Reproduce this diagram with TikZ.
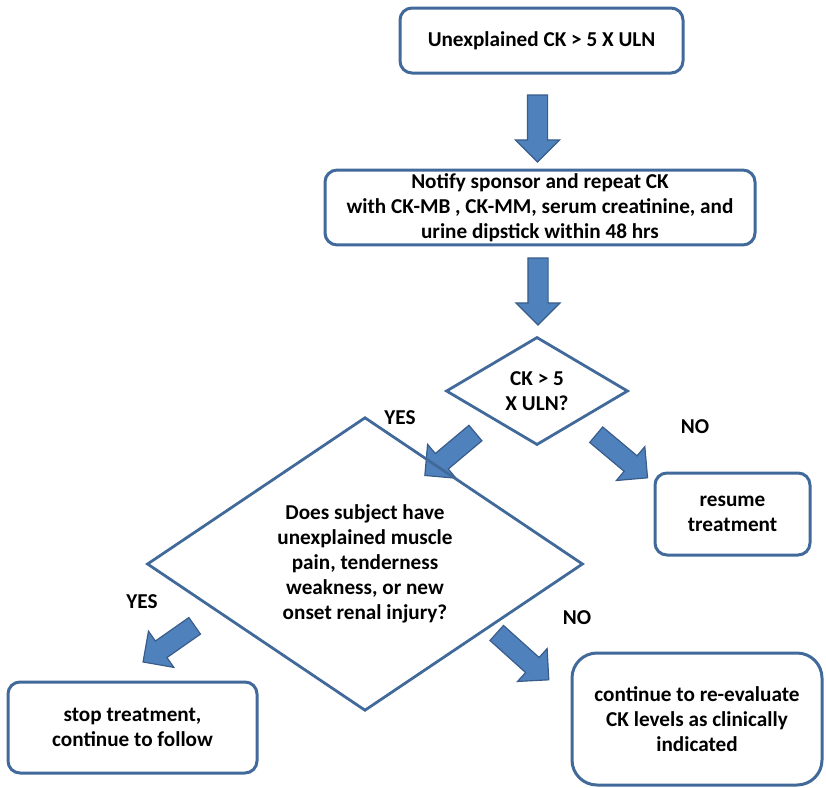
\documentclass[tikz,border=0pt]{standalone}
\usepackage{fontspec}
\setmainfont{Carlito}
\usetikzlibrary{shapes.geometric, shapes.arrows}

\definecolor{boxline}{HTML}{41699A}
\definecolor{arrowfill}{HTML}{4F81BD}
\definecolor{arrowline}{HTML}{385D8A}

\begin{document}
\begin{tikzpicture}[
  x=1pt, y=-1pt,
  every node/.style={font=\bfseries\fontsize{21.2}{25}\selectfont, align=center},
  box/.style={draw=boxline, line width=3pt, rounded corners=12pt},
  decision/.style={diamond, draw=boxline, line width=2.8pt, inner sep=0pt},
  bigarrow/.style={single arrow, draw=arrowline, fill=arrowfill, line width=1.2pt,
    inner xsep=0pt, inner ysep=9.5pt, single arrow head extend=12pt}
]
\useasboundingbox (0,0) rectangle (826,787);

% Start and repeat test
\node[box, minimum width=283pt, minimum height=65pt] (unexpl) at (541.5,40.5) {Unexplained CK > 5 X ULN};
\node[bigarrow, minimum height=67pt, rotate=-90] (arr1) at (537.5,123.5) {};

\node[box, minimum width=430pt, minimum height=71pt] (notify) at (540,207.5)
  {Notify sponsor and repeat CK\\with CK-MB , CK-MM, serum creatinine, and\\urine dipstick within 48 hrs};
\node[bigarrow, minimum height=67pt, rotate=-90] (arr2) at (538,286.5) {};

% First decision
\node[decision, minimum width=182pt, minimum height=108pt] (ckhigh) at (537,391) {CK > 5\\X ULN?};
\node (yes1) at (400,418) {YES};
\node (no1) at (695,427) {NO};
\node[bigarrow, minimum height=66pt, rotate=220] (arr3) at (454,451) {};
\node[bigarrow, minimum height=67pt, rotate=-40] (arr4) at (618,453) {};

\node[box, minimum width=155pt, minimum height=82pt] (resume) at (732.5,514) {resume\\treatment};

% Second decision
\node[decision, minimum width=436pt, minimum height=237pt] (symptoms) at (365,564)
  {Does subject have\\unexplained muscle\\pain, tenderness\\weakness, or new\\onset renal injury?};
\node (yes2) at (142,602) {YES};
\node (no2) at (577,618) {NO};
\node[bigarrow, minimum height=63pt, rotate=215] (arr5) at (173,641) {};
\node[bigarrow, minimum height=70pt, rotate=-42] (arr6) at (519,653) {};

% Outcomes
\node[box, minimum width=249pt, minimum height=91pt] (stop) at (132.5,727.5) {stop treatment,\\continue to follow};
\node[box, rounded corners=25pt, minimum width=250pt, minimum height=132pt] (reeval) at (697,719)
  {continue to re-evaluate\\CK levels as clinically\\indicated};

\end{tikzpicture}
\end{document}
